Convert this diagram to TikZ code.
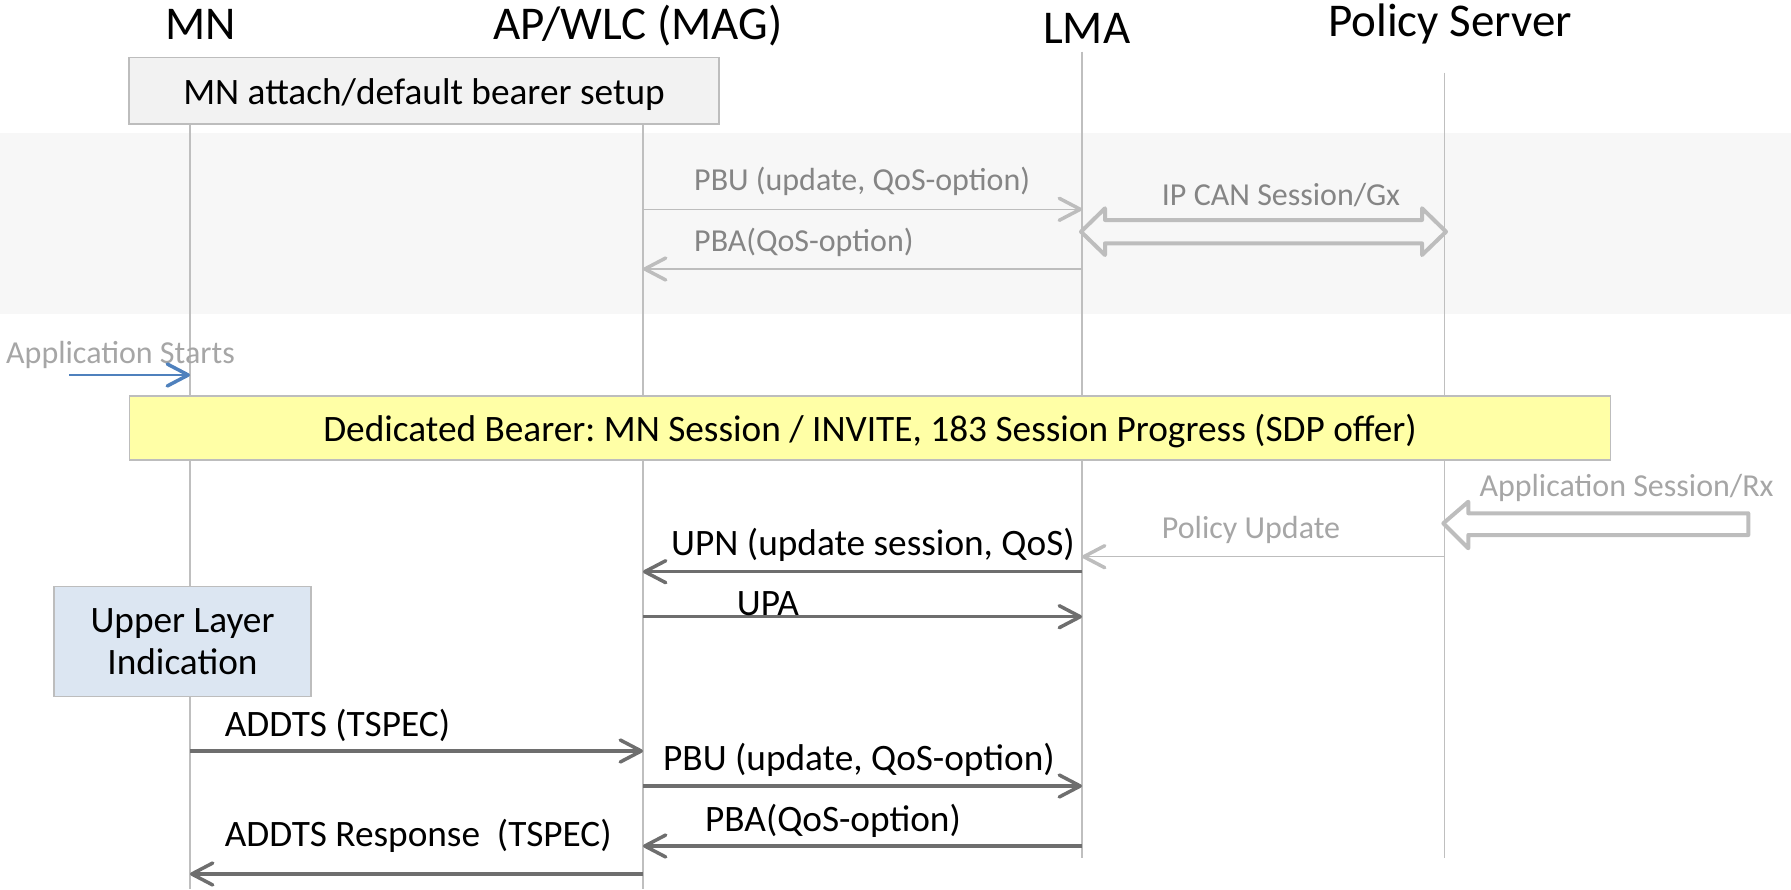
\documentclass[tikz,border=0pt]{standalone}
\usepackage{fontspec}
\setmainfont{Carlito}
\usetikzlibrary{arrows.meta}
\frenchspacing

\definecolor{bandfill}{HTML}{F7F7F7}
\definecolor{lifegray}{HTML}{BFBFBF}
\definecolor{boxline}{HTML}{BDBDBD}
\definecolor{setupfill}{HTML}{F2F2F2}
\definecolor{bearerfill}{HTML}{FFFFA6}
\definecolor{ulfill}{HTML}{DCE6F2}
\definecolor{msgdark}{HTML}{6E6E6E}
\definecolor{msglight}{HTML}{BDBDBD}
\definecolor{textmid}{HTML}{858585}
\definecolor{textlight}{HTML}{A6A6A6}
\definecolor{appblue}{HTML}{4F81BD}

\begin{document}
\begin{tikzpicture}[x=1pt,y=-1pt,
  title/.style={anchor=base west, inner sep=0pt, font=\fontsize{47}{56}\selectfont},
  lbl/.style={anchor=base west, inner sep=0pt, font=\fontsize{37.3}{43}\selectfont},
  glbl/.style={anchor=base west, inner sep=0pt, font=\fontsize{32}{38}\selectfont, text=textmid},
  plbl/.style={glbl, text=textlight},
  lifeline/.style={draw=lifegray, line width=1.5pt},
  barbtip/.tip={Straight Barb[length=21pt, width=22pt, round]},
  msg/.style={draw=msgdark, line width=3.5pt, -barbtip},
  lmsg/.style={draw=msglight, line width=1.5pt,
    -{Straight Barb[length=21pt, width=22pt, line width=3.5pt, round]}},
  blockarrow/.style={draw=msglight, line width=4pt, line join=round},
  phasebox/.style={draw=boxline, line width=1.5pt, inner sep=0pt,
    font=\fontsize{37.3}{43}\selectfont, text height=27pt, text depth=0pt}
]
\useasboundingbox (0,0) rectangle (1791,889);

% shaded band behind the default-bearer QoS exchange
\fill[bandfill] (0,132.5) rectangle (1791,314);

% lifeline ends
\coordinate (mnT)  at (190,124);   \coordinate (mnB)  at (190,889);
\coordinate (magT) at (643,124);   \coordinate (magB) at (643,889);
\coordinate (lmaT) at (1082,51.7); \coordinate (lmaB) at (1082,858);
\coordinate (psT)  at (1444.5,72.7); \coordinate (psB) at (1444.5,858);

% message rows
\coordinate (rPBU1) at (0,209.3);
\coordinate (rPBA1) at (0,269);
\coordinate (rApp)  at (0,375);
\coordinate (rPol)  at (0,556.7);
\coordinate (rUPN)  at (0,571.7);
\coordinate (rUPA)  at (0,616.7);
\coordinate (rADD)  at (0,751);
\coordinate (rPBU2) at (0,786);
\coordinate (rPBA2) at (0,846);
\coordinate (rRSP)  at (0,874);
\coordinate (appSrc) at (69,375);

% entity titles
\node[title] (tMN)  at (165,39.3)   {MN};
\node[title] (tMAG) at (493,39.3)   {AP/WLC (MAG)};
\node[title] (tLMA) at (1043,43.3)  {LMA};
\node[title] (tPS)  at (1328,36.7)  {Policy Server};

% lifelines
\draw[lifeline] (mnT) -- (mnB);
\draw[lifeline] (magT) -- (magB);
\draw[lifeline] (lmaT) -- (lmaB);
\draw[lifeline] (psT) -- (psB);

% phase boxes
\node[phasebox, fill=setupfill, minimum width=589.7pt, minimum height=66.7pt]
  (setup) at (424,90.7) {MN attach/default bearer setup};
\node[phasebox, fill=bearerfill, minimum width=1481.4pt, minimum height=64pt]
  (bearer) at (870,428) {Dedicated Bearer: MN Session / INVITE, 183 Session Progress (SDP offer)};
\node[draw=boxline, line width=1.5pt, fill=ulfill, inner sep=0pt,
  minimum width=257pt, minimum height=110pt, align=center,
  font=\fontsize{37.3}{42}\selectfont]
  (upper) at (182.5,641.7) {Upper Layer\\Indication};

% default bearer QoS exchange
\draw[lmsg] (magT |- rPBU1) -- (lmaT |- rPBU1);
\node[glbl] (lPBU1) at (694,190) {PBU (update, QoS-option)};
\draw[lmsg] (lmaT |- rPBA1) -- (magT |- rPBA1);
\node[glbl] (lPBA1) at (694,251.7) {PBA(QoS-option)};

% Gx session between LMA and policy server
\draw[blockarrow] (1081,231.7) -- (1105,208.3) -- (1105,220) -- (1422,220)
  -- (1422,208.3) -- (1446,231.7) -- (1422,255) -- (1422,243.3)
  -- (1105,243.3) -- (1105,255) -- cycle;
\node[glbl, anchor=base] (lGx) at (1281,205) {IP CAN Session/Gx};

% application trigger
\node[plbl] (lApp) at (6,363.3) {Application Starts};
\draw[draw=appblue, line width=2pt,
  -{Straight Barb[length=21pt, width=22pt, line width=3.5pt, round]}]
  (appSrc) -- (mnT |- rApp);

% Rx session into the policy server
\draw[blockarrow] (1443.3,523.3) -- (1468.3,501.7) -- (1468.3,513.3)
  -- (1748.3,513.3) -- (1748.3,535) -- (1468.3,535) -- (1468.3,548.3) -- cycle;
\node[plbl] (lRx) at (1479.3,496.7) {Application Session/Rx};

% policy update
\draw[lmsg] (psT |- rPol) -- (lmaT |- rPol);
\node[plbl, anchor=base] (lPol) at (1251,538.3) {Policy Update};

% dedicated bearer signalling
\draw[msg] (lmaT |- rUPN) -- (magT |- rUPN);
\node[lbl] (lUPN) at (671,555) {UPN (update session, QoS)};
\draw[msg] (magT |- rUPA) -- (lmaT |- rUPA);
\node[lbl] (lUPA) at (736.7,615) {UPA};

\draw[msg] (mnT |- rADD) -- (magT |- rADD);
\node[lbl] (lADD) at (224.6,736) {ADDTS (TSPEC)};
\draw[msg] (magT |- rPBU2) -- (lmaT |- rPBU2);
\node[lbl] (lPBU2) at (663,770.7) {PBU (update, QoS-option)};
\draw[msg] (lmaT |- rPBA2) -- (magT |- rPBA2);
\node[lbl] (lPBA2) at (705,831.7) {PBA(QoS-option)};
\draw[msg] (magT |- rRSP) -- (mnT |- rRSP);
\node[lbl] (lRSP) at (224.6,846.7) {ADDTS Response\ \ (TSPEC)};
\end{tikzpicture}
\end{document}
